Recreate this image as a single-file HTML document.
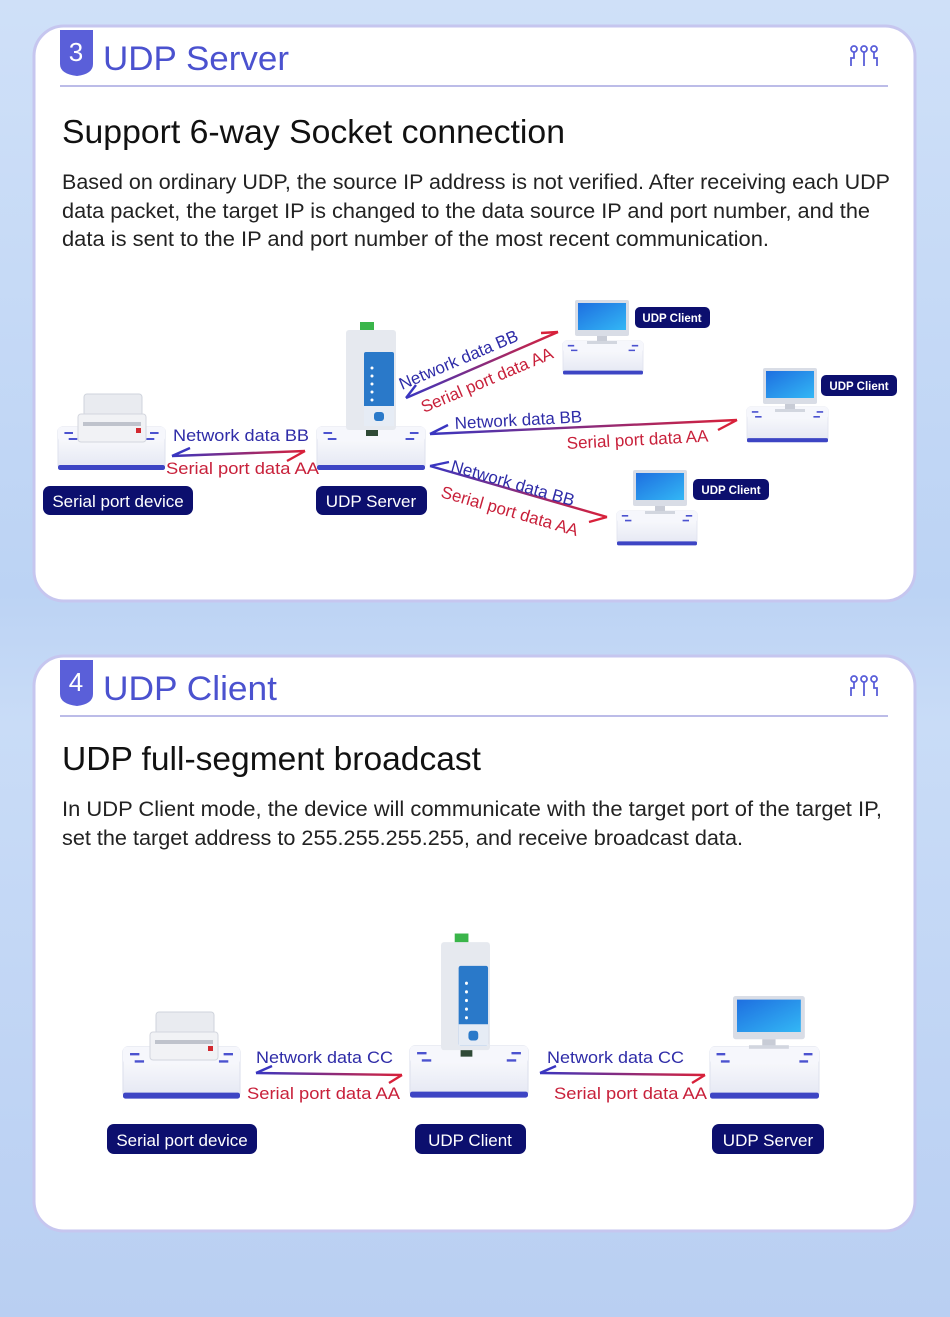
<!DOCTYPE html>
<html><head><meta charset="utf-8"><style>
html,body{margin:0;padding:0;width:950px;height:1317px;overflow:hidden;}
body{background:linear-gradient(180deg,#cfe0f8 0%,#bcd3f4 45%,#c9dcf7 55%,#b9cff2 100%);font-family:"Liberation Sans",sans-serif;}
svg{display:block}
</style></head><body>
<svg width="950" height="1317" viewBox="0 0 950 1317" xmlns="http://www.w3.org/2000/svg" font-family="Liberation Sans, sans-serif">
<defs>
<linearGradient id="gL" x1="0" x2="1" y1="0" y2="0"><stop offset="0" stop-color="#3a36c0"/><stop offset="1" stop-color="#d8213a"/></linearGradient>
<linearGradient id="ped" x1="0" x2="0" y1="0" y2="1"><stop offset="0" stop-color="#ffffff"/><stop offset="1" stop-color="#e4e7f3"/></linearGradient>
<linearGradient id="scr" x1="0" x2="1" y1="0" y2="1"><stop offset="0" stop-color="#1e6fe0"/><stop offset="1" stop-color="#33b7f5"/></linearGradient>
<g id="pedS">
 <rect x="0" y="0" width="100" height="42" rx="4" fill="url(#ped)" stroke="#dfe2ee"/>
 <rect x="0" y="0" width="100" height="14" rx="3" fill="#f6f7fc"/>
 <rect x="0" y="38" width="100" height="5" rx="2" fill="#3d45c4"/>
 <path d="M6 6 h8 M86 6 h8 M10 12 h8 M82 12 h8" stroke="#4b52cf" stroke-width="2"/>
</g>
<g id="pc">
 <rect x="0" y="0" width="54" height="36" rx="2" fill="#d9dde6"/>
 <rect x="3" y="3" width="48" height="27" fill="url(#scr)"/>
 <rect x="22" y="36" width="10" height="6" fill="#c8ccd6"/>
 <rect x="12" y="41" width="30" height="3" fill="#d2d6df"/>
</g>
<g id="mod">
 <rect x="14" y="-6" width="14" height="10" fill="#3ab54a"/>
 <rect x="0" y="2" width="50" height="100" rx="3" fill="#e6e9ef"/>
 <rect x="18" y="24" width="30" height="74" rx="2" fill="#2a79c9"/>
 <circle cx="26" cy="40" r="1.5" fill="#fff"/><circle cx="26" cy="48" r="1.5" fill="#fff"/><circle cx="26" cy="56" r="1.5" fill="#fff"/><circle cx="26" cy="64" r="1.5" fill="#fff"/><circle cx="26" cy="72" r="1.5" fill="#fff"/>
 <rect x="18" y="78" width="30" height="20" fill="#e6ecf5"/>
 <rect x="28" y="84" width="10" height="9" rx="3" fill="#2a79c9"/>
 <rect x="20" y="102" width="12" height="6" fill="#2f4a36"/>
</g>
<g id="printer">
 <rect x="6" y="0" width="58" height="22" rx="3" fill="#e9ebf0" stroke="#cfd3dc"/>
 <rect x="0" y="20" width="68" height="28" rx="3" fill="#f1f2f5" stroke="#d3d6de"/>
 <rect x="5" y="28" width="58" height="4" fill="#bfc3cc"/>
 <rect x="58" y="34" width="5" height="5" fill="#d2282f"/>
</g>
</defs>

<rect x="34" y="26" width="881" height="575" rx="30" fill="#fff" stroke="#c6c6ef" stroke-width="3"/>
<rect x="34" y="656" width="881" height="575" rx="30" fill="#fff" stroke="#c6c6ef" stroke-width="3"/>

<path d="M60 30 h33 v34 q0 10 -16 12 q-17 -2 -17 -12 z" fill="#5a5fd9"/>
<text x="76" y="61" font-size="26" fill="#fff" text-anchor="middle">3</text>
<text x="103" y="70" font-size="34" fill="#4b52cf" textLength="186" lengthAdjust="spacingAndGlyphs">UDP Server</text>
<rect x="60" y="85" width="828" height="2" fill="#bcbce8"/>
<g stroke="#5a5fd9" stroke-width="1.8" fill="none"><circle cx="854" cy="49" r="3"/><circle cx="864" cy="49" r="3"/><circle cx="874" cy="49" r="3"/><path d="M854 52 v6 h-3 v8 M864 52 v14 M874 52 v6 h3 v8"/></g>
<text x="62" y="143" font-size="33" fill="#111" textLength="503" lengthAdjust="spacingAndGlyphs">Support 6-way Socket connection</text>
<g font-size="21" fill="#222">
<text x="62" y="189" textLength="828" lengthAdjust="spacingAndGlyphs">Based on ordinary UDP, the source IP address is not verified. After receiving each UDP</text>
<text x="62" y="218" textLength="808" lengthAdjust="spacingAndGlyphs">data packet, the target IP is changed to the data source IP and port number, and the</text>
<text x="62" y="246" textLength="707" lengthAdjust="spacingAndGlyphs">data is sent to the IP and port number of the most recent communication.</text>
</g>

<use href="#pedS" transform="translate(58,427) scale(1.07,1)"/>
<use href="#printer" transform="translate(78,394)"/>
<use href="#pedS" transform="translate(317,427) scale(1.08,1)"/>
<use href="#mod" transform="translate(346,328)"/>
<use href="#pedS" transform="translate(563,341) scale(0.8,0.78)"/>
<use href="#pc" transform="translate(575,300)"/>
<use href="#pedS" transform="translate(747,407) scale(0.81,0.82)"/>
<use href="#pc" transform="translate(763,368)"/>
<use href="#pedS" transform="translate(617,511) scale(0.8,0.8)"/>
<use href="#pc" transform="translate(633,470)"/>

<g fill="none" stroke-width="2.4">
<path d="M172 456 L305 451" stroke="url(#gL)"/><path d="M172 456 L190 448" stroke="#3a36c0"/><path d="M305 451 L287 461" stroke="#d8213a"/>
<path d="M406 398 L558 332" stroke="url(#gL)"/><path d="M406 398 L416 385" stroke="#3a36c0"/><path d="M558 332 L541 333" stroke="#d8213a"/>
<path d="M430 434 L737 420" stroke="url(#gL)"/><path d="M430 434 L448 425" stroke="#3a36c0"/><path d="M737 420 L718 430" stroke="#d8213a"/>
<path d="M430 466 L607 517" stroke="url(#gL)"/><path d="M430 466 L449 462" stroke="#3a36c0"/><path d="M607 517 L589 522" stroke="#d8213a"/>
</g>
<g font-size="17">
<text x="173" y="441" fill="#2f2ca8" textLength="136" lengthAdjust="spacingAndGlyphs">Network data BB</text>
<text x="166" y="474" fill="#c8203a" textLength="153" lengthAdjust="spacingAndGlyphs">Serial port data AA</text>
<text transform="translate(402,390) rotate(-23)" fill="#2f2ca8">Network data BB</text>
<text transform="translate(424,413) rotate(-23)" fill="#c8203a">Serial port data AA</text>
<text transform="translate(455,429) rotate(-3)" fill="#2f2ca8">Network data BB</text>
<text transform="translate(567,449) rotate(-3)" fill="#c8203a">Serial port data AA</text>
<text transform="translate(450,471) rotate(16)" fill="#2f2ca8">Network data BB</text>
<text transform="translate(440,497) rotate(16)" fill="#c8203a">Serial port data AA</text>
</g>
<g fill="#0c0f6e">
<rect x="43" y="486" width="150" height="29" rx="7"/>
<rect x="316" y="486" width="111" height="29" rx="7"/>
<rect x="635" y="307" width="75" height="21" rx="5"/>
<rect x="821" y="375" width="76" height="21" rx="5"/>
<rect x="693" y="479" width="76" height="21" rx="5"/>
</g>
<g fill="#fff">
<text x="118" y="507" font-size="17" text-anchor="middle">Serial port device</text>
<text x="371" y="507" font-size="17" text-anchor="middle">UDP Server</text>
<text x="672" y="322" font-size="11.5" text-anchor="middle" font-weight="bold">UDP Client</text>
<text x="859" y="390" font-size="11.5" text-anchor="middle" font-weight="bold">UDP Client</text>
<text x="731" y="494" font-size="11.5" text-anchor="middle" font-weight="bold">UDP Client</text>
</g>

<path d="M60 660 h33 v34 q0 10 -16 12 q-17 -2 -17 -12 z" fill="#5a5fd9"/>
<text x="76" y="691" font-size="26" fill="#fff" text-anchor="middle">4</text>
<text x="103" y="700" font-size="34" fill="#4b52cf" textLength="174" lengthAdjust="spacingAndGlyphs">UDP Client</text>
<rect x="60" y="715" width="828" height="2" fill="#bcbce8"/>
<g stroke="#5a5fd9" stroke-width="1.8" fill="none"><circle cx="854" cy="679" r="3"/><circle cx="864" cy="679" r="3"/><circle cx="874" cy="679" r="3"/><path d="M854 682 v6 h-3 v8 M864 682 v14 M874 682 v6 h3 v8"/></g>
<text x="62" y="770" font-size="33" fill="#111" textLength="419" lengthAdjust="spacingAndGlyphs">UDP full-segment broadcast</text>
<g font-size="21" fill="#222">
<text x="62" y="816" textLength="820" lengthAdjust="spacingAndGlyphs">In UDP Client mode, the device will communicate with the target port of the target IP,</text>
<text x="62" y="845" textLength="681" lengthAdjust="spacingAndGlyphs">set the target address to 255.255.255.255, and receive broadcast data.</text>
</g>

<use href="#pedS" transform="translate(123,1047) scale(1.17,1.2)"/>
<use href="#printer" transform="translate(150,1012)"/>
<use href="#pedS" transform="translate(410,1046) scale(1.18,1.2)"/>
<use href="#mod" transform="translate(441,940) scale(0.98,1.08)"/>
<use href="#pedS" transform="translate(710,1047) scale(1.09,1.2)"/>
<use href="#pc" transform="translate(733,996) scale(1.33,1.2)"/>
<g fill="none" stroke-width="2.4">
<path d="M256 1073 L402 1075" stroke="url(#gL)"/><path d="M256 1073 L272 1066" stroke="#3a36c0"/><path d="M402 1075 L389 1083" stroke="#d8213a"/>
<path d="M540 1073 L705 1075" stroke="url(#gL)"/><path d="M540 1073 L556 1066" stroke="#3a36c0"/><path d="M705 1075 L692 1083" stroke="#d8213a"/>
</g>
<g font-size="17">
<text x="256" y="1063" fill="#2f2ca8" textLength="137" lengthAdjust="spacingAndGlyphs">Network data CC</text>
<text x="247" y="1099" fill="#c8203a" textLength="153" lengthAdjust="spacingAndGlyphs">Serial port data AA</text>
<text x="547" y="1063" fill="#2f2ca8" textLength="137" lengthAdjust="spacingAndGlyphs">Network data CC</text>
<text x="554" y="1099" fill="#c8203a" textLength="153" lengthAdjust="spacingAndGlyphs">Serial port data AA</text>
</g>
<g fill="#0c0f6e">
<rect x="107" y="1124" width="150" height="30" rx="7"/>
<rect x="415" y="1124" width="111" height="30" rx="7"/>
<rect x="712" y="1124" width="112" height="30" rx="7"/>
</g>
<g fill="#fff" font-size="17" text-anchor="middle">
<text x="182" y="1146">Serial port device</text>
<text x="470" y="1146">UDP Client</text>
<text x="768" y="1146">UDP Server</text>
</g>
</svg>
</body></html>
